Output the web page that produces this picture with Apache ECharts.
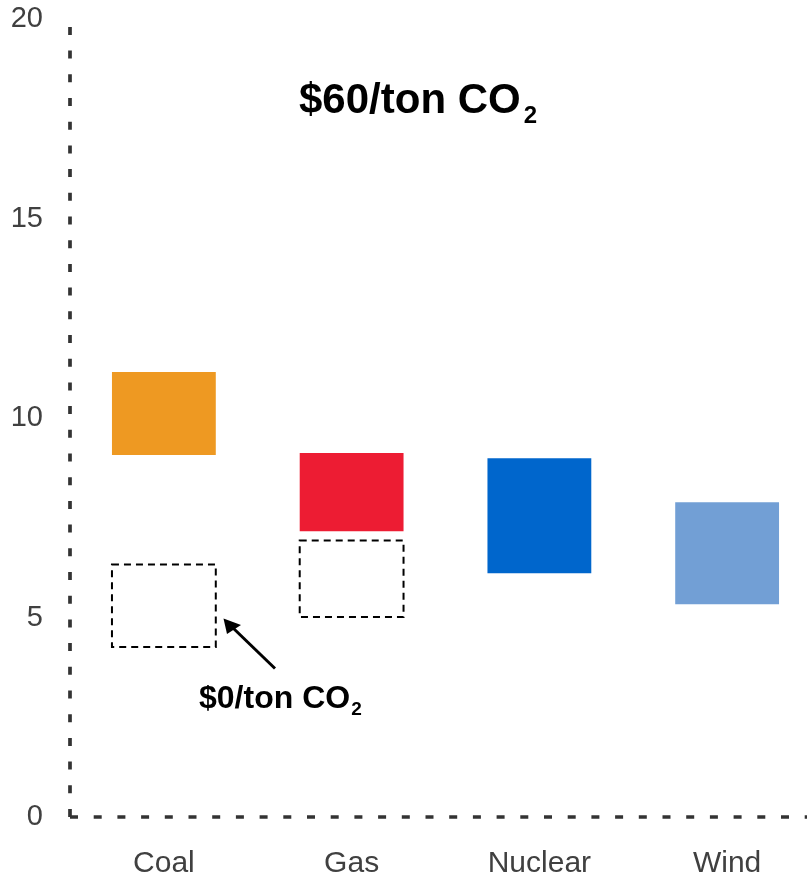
<!DOCTYPE html>
<html><head><meta charset="utf-8">
<script src="https://cdn.jsdelivr.net/npm/echarts@6/dist/echarts.min.js"></script>
<style>html,body{margin:0;padding:0;background:#fff}#c{width:807px;height:880px}</style>
</head><body><div id="c"></div>
<script>
const categories = ['Coal', 'Gas', 'Nuclear', 'Wind'];
// cost ranges at $60/ton CO2 [low, high]
const low60 = [9.07, 7.16, 6.11, 5.33];
const high60 = [11.15, 9.12, 8.99, 7.89];
// cost ranges at $0/ton CO2 (dashed boxes; only fossil plants)
const low0 = [4.26, 5.01, null, null];
const high0 = [6.33, 6.93, null, null];
const colors = ['#EE9922', '#ED1C33', '#0066CC', '#729FD5'];
const yTicks = [0, 5, 10, 15, 20];

const FONT = 'Liberation Sans, Arial, sans-serif';
const chart = echarts.init(document.getElementById('c'), null, {renderer: 'canvas'});

function boxRender(lows, highs, dashed) {
  return function (params, api) {
    const i = params.dataIndex;
    if (lows[i] == null) return null;
    const band = api.size([1, 0])[0];
    const w = band * 0.553;
    const pTop = api.coord([i, highs[i]]);
    const pBot = api.coord([i, lows[i]]);
    const shape = {x: pTop[0] - w / 2, y: pTop[1], width: w, height: pBot[1] - pTop[1]};
    if (dashed) {
      return {type: 'rect', shape: shape,
        style: {fill: 'none', stroke: '#000', lineWidth: 2, lineDash: [7, 5]}};
    }
    return {type: 'rect', shape: shape, style: {fill: colors[i]}};
  };
}

const axisLineStyle = {color: '#333', width: 3.7, type: [8, 15.7], cap: 'butt'};

chart.setOption({
  animation: false,
  grid: {left: 70, top: 19, right: -14, bottom: 63, outerBoundsMode: 'none'},
  xAxis: {
    type: 'category', data: categories,
    axisLine: {lineStyle: axisLineStyle},
    axisTick: {show: false},
    axisLabel: {fontSize: 30, color: '#404040', fontFamily: FONT, margin: 32}
  },
  yAxis: {
    type: 'value', min: 0, max: 20, interval: 5,
    axisLine: {show: true, lineStyle: axisLineStyle},
    axisTick: {show: false},
    splitLine: {show: false},
    axisLabel: {fontSize: 29, color: '#404040', fontFamily: FONT, margin: 27,
      customValues: yTicks}
  },
  series: [
    {type: 'custom', renderItem: boxRender(low0, high0, true),
      data: categories.map((c, i) => [i, low0[i], high0[i]]), z: 3},
    {type: 'custom', renderItem: boxRender(low60, high60, false),
      data: categories.map((c, i) => [i, low60[i], high60[i]]), z: 2}
  ],
  graphic: [
    {type: 'text', left: 299, top: 80, z: 10,
      style: {text: '{m|$60/ton CO}{s|2}', fontFamily: FONT,
        rich: {m: {fontSize: 42, fontWeight: 'bold', fontFamily: FONT, fill: '#000'},
               s: {fontSize: 24, fontWeight: 'bold', fontFamily: FONT, fill: '#000', verticalAlign: 'bottom', padding: [0, 0, -6, 3]}}}},
    {type: 'text', left: 199, top: 683, z: 10,
      style: {text: '{m|$0/ton CO}{s|2}', fontFamily: FONT,
        rich: {m: {fontSize: 32, fontWeight: 'bold', fontFamily: FONT, fill: '#000'},
               s: {fontSize: 19, fontWeight: 'bold', fontFamily: FONT, fill: '#000', verticalAlign: 'bottom', padding: [0, 0, -4, 1]}}}},
    {type: 'line', z: 10, shape: {x1: 275, y1: 668.5, x2: 232, y2: 627},
      style: {stroke: '#000', lineWidth: 3}},
    {type: 'polygon', z: 10, shape: {points: [[223.5, 618.5], [241, 625], [227, 634]]},
      style: {fill: '#000'}}
  ]
});
</script></body></html>
